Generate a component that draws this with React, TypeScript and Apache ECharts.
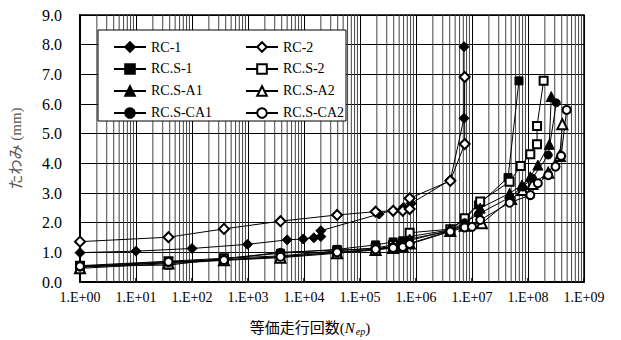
import React, { useEffect, useRef } from "react";
import * as echarts from "echarts";

const xTickLabels = ["1.E+00", "1.E+01", "1.E+02", "1.E+03", "1.E+04", "1.E+05", "1.E+06", "1.E+07", "1.E+08", "1.E+09"];
const yTickLabels = ["0.0", "1.0", "2.0", "3.0", "4.0", "5.0", "6.0", "7.0", "8.0", "9.0"];

const RC1 = [[1, 0.99], [10, 1.04], [100, 1.13], [980, 1.27], [5000, 1.42], [9700, 1.45], [15000, 1.49], [20000, 1.53], [20000, 1.73], [2.2e5, 2.29], [6e5, 2.52], [8.2e5, 2.65], [4.1e6, 3.44], [7.2e6, 5.52], [7.2e6, 7.93]];
const RC2 = [[1, 1.36], [38, 1.51], [372, 1.79], [3800, 2.05], [39000, 2.26], [1.9e5, 2.37], [3.9e5, 2.4], [5.8e5, 2.4], [7.7e5, 2.46], [7.7e5, 2.82], [4.1e6, 3.41], [7.4e6, 4.65], [7.4e6, 6.91]];
const RCS1 = [[1, 0.53], [38, 0.57], [372, 0.79], [3800, 0.97], [39000, 1.1], [1.9e5, 1.25], [3.9e5, 1.35], [5.8e5, 1.39], [7.7e5, 1.53], [4.1e6, 1.76], [7.4e6, 2.12], [1.3e7, 2.6], [4.4e7, 3.52], [6.9e7, 6.78]];
const RCS2 = [[1, 0.55], [38, 0.7], [372, 0.8], [3800, 0.88], [39000, 1.05], [1.9e5, 1.15], [3.9e5, 1.25], [5.8e5, 1.3], [7.7e5, 1.66], [4.1e6, 1.78], [7.4e6, 2.15], [1.4e7, 2.71], [4.7e7, 3.38], [7.4e7, 3.91], [1.1e8, 4.31], [1.45e8, 4.64], [1.45e8, 5.26], [1.9e8, 6.78]];
const RCSA1 = [[1, 0.5], [38, 0.65], [372, 0.75], [3800, 0.85], [39000, 1.0], [1.9e5, 1.1], [3.9e5, 1.2], [5.8e5, 1.25], [7.7e5, 1.45], [4.1e6, 1.72], [7.4e6, 1.95], [1.4e7, 2.49], [4.7e7, 2.99], [7.8e7, 3.27], [1.1e8, 3.55], [1.5e8, 3.94], [2.4e8, 4.64], [2.6e8, 6.25]];
const RCSA2 = [[1, 0.46], [38, 0.62], [372, 0.73], [3800, 0.82], [39000, 0.97], [1.9e5, 1.08], [3.9e5, 1.15], [5.8e5, 1.2], [7.7e5, 1.3], [4.1e6, 1.72], [7.4e6, 1.9], [1.5e7, 1.98], [5e7, 2.8], [8e7, 3.1], [1.2e8, 3.3], [2.3e8, 3.68], [3.7e8, 4.25], [4.1e8, 5.32]];
const RCSCA1 = [[1, 0.5], [38, 0.66], [372, 0.78], [3800, 1.0], [39000, 1.08], [1.9e5, 1.12], [3.9e5, 1.2], [5.8e5, 1.3], [7.7e5, 1.4], [4.1e6, 1.75], [7.4e6, 2.0], [1.3e7, 2.29], [4.7e7, 2.85], [8e7, 3.2], [1.2e8, 3.5], [2.3e8, 4.28], [3.2e8, 6.04]];
const RCSCA2 = [[1, 0.53], [38, 0.68], [372, 0.74], [3800, 0.85], [39000, 1.0], [1.9e5, 1.1], [3.9e5, 1.15], [5.8e5, 1.18], [7.7e5, 1.28], [4.1e6, 1.7], [7.4e6, 1.84], [1e7, 1.86], [1.4e7, 2.09], [4.7e7, 2.67], [1.1e8, 2.93], [1.5e8, 3.33], [2.3e8, 3.6], [3.1e8, 3.89], [3.9e8, 4.25], [4.9e8, 5.8]];

const seriesNames = ["RC-1", "RC-2", "RC.S-1", "RC.S-2", "RC.S-A1", "RC.S-A2", "RC.S-CA1", "RC.S-CA2"];
const seriesData = [RC1, RC2, RCS1, RCS2, RCSA1, RCSA2, RCSCA1, RCSCA2];
const seriesSymbols = ["diamond", "emptyDiamond", "rect", "emptyRect", "triangle", "emptyTriangle", "circle", "emptyCircle"];
const seriesSymbolSizes = [10, 10, 8, 8, 10, 10, 8, 8];

const FONT = "'Liberation Serif', 'Noto Sans CJK JP', serif";

export default function App() {
  const ref = useRef<HTMLDivElement>(null);
  useEffect(() => {
    if (!ref.current) return;
    const chart = echarts.init(ref.current, null, { renderer: "svg" });

    // minor log gridlines at 2..9 × 10^k, drawn through the axes
    const series: any[] = [];
    for (let k = 0; k < 9; k++) {
      for (let m = 2; m <= 9; m++) {
        const v = m * Math.pow(10, k);
        series.push({
          name: "minor" + k + m,
          type: "line",
          data: [[v, 0], [v, 9]],
          symbol: "none",
          silent: true,
          z: 1,
          lineStyle: { color: "#444", width: 1, opacity: 1 },
          itemStyle: { color: "#444" },
        });
      }
    }
    seriesNames.forEach((name, i) => {
      series.push({
        name,
        type: "line",
        data: seriesData[i],
        symbol: seriesSymbols[i],
        symbolSize: seriesSymbolSizes[i],
        showAllSymbol: true,
        lineStyle: { color: "#000", width: 1 },
        itemStyle: { color: "#000", borderColor: "#000", borderWidth: 1 },
        z: 5,
      });
    });

    const legendCommon = {
      orient: "vertical",
      top: 35,
      itemWidth: 32,
      itemHeight: 12,
      itemGap: 8,
      z: 10,
      textStyle: { color: "#000", fontSize: 14, fontFamily: FONT },
    };

    chart.setOption({
      animation: false,
      backgroundColor: "#fff",
      textStyle: { fontFamily: FONT },
      grid: {
        left: 79,
        right: 37,
        top: 15,
        bottom: 58,
        show: true,
        borderColor: "#000",
        borderWidth: 1.5,
        backgroundColor: "rgba(0,0,0,0)",
      },
      xAxis: {
        type: "log",
        logBase: 10,
        min: 1,
        max: 1e9,
        splitNumber: 9,
        axisLine: { show: true, lineStyle: { color: "#000", width: 2 } },
        axisTick: { show: true, inside: true, length: 4, lineStyle: { color: "#000", width: 1.5 } },
        splitLine: { show: true, lineStyle: { color: "#000", width: 1 } },
        axisLabel: {
          interval: 0,
          margin: 8,
          color: "#000",
          fontSize: 14,
          fontFamily: FONT,
          formatter: (v: number) => xTickLabels[Math.round(Math.log10(v))] ?? "",
        },
      },
      yAxis: {
        type: "value",
        min: 0,
        max: 9,
        interval: 1,
        name: "たわみ (mm)",
        nameLocation: "middle",
        nameGap: 57,
        nameTextStyle: { color: "#555", fontSize: 15, fontFamily: FONT },
        axisLine: { show: true, lineStyle: { color: "#000", width: 2 } },
        axisTick: { show: false },
        splitLine: { show: true, lineStyle: { color: "#000", width: 1 } },
        axisLabel: {
          margin: 18,
          color: "#000",
          fontSize: 16,
          fontFamily: FONT,
          formatter: (v: number) => yTickLabels[Math.round(v)] ?? "",
        },
      },
      legend: [
        { ...legendCommon, data: ["RC-1", "RC.S-1", "RC.S-A1", "RC.S-CA1"], left: 108 },
        { ...legendCommon, data: ["RC-2", "RC.S-2", "RC.S-A2", "RC.S-CA2"], left: 240 },
      ],
      graphic: [
        {
          type: "rect",
          z: 8,
          shape: { x: 98, y: 30, width: 248, height: 91 },
          style: { fill: "#fff", stroke: "#000", lineWidth: 1 },
        },
        {
          type: "text",
          x: 310,
          y: 328,
          style: {
            text: "等価走行回数({n|N}{s|ep})",
            textAlign: "center",
            textVerticalAlign: "middle",
            fill: "#000",
            fontSize: 15,
            fontFamily: FONT,
            rich: {
              n: { fontStyle: "italic", fontSize: 15, fontFamily: FONT, fill: "#000" },
              s: { fontStyle: "italic", fontSize: 10, fontFamily: FONT, verticalAlign: "bottom", padding: [6, 0, 0, 1], fill: "#000" },
            },
          },
        },
      ],
      series,
    });
    return () => chart.dispose();
  }, []);
  return <div ref={ref} style={{ position: "fixed", left: 0, top: 0, width: 621, height: 340 }} />;
}
